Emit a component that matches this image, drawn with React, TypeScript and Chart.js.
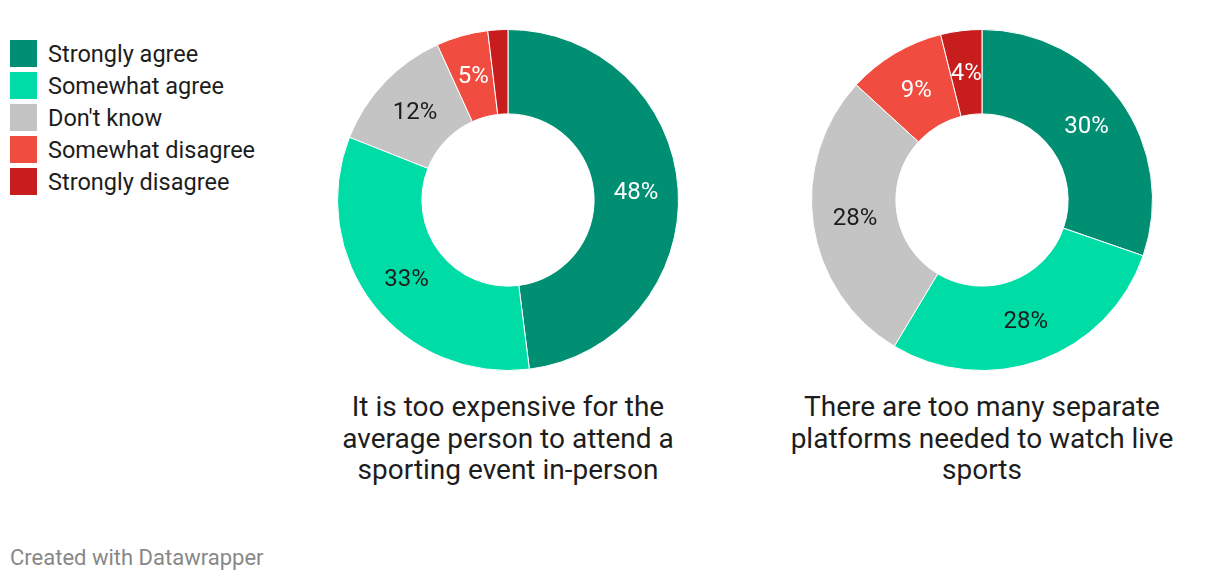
import React, { useEffect, useRef } from "react";
import { Chart, registerables } from "chart.js";

Chart.register(...registerables);

const categories = ["Strongly agree", "Somewhat agree", "Don't know", "Somewhat disagree", "Strongly disagree"];
const colors = ["#008f73", "#00dca6", "#c4c4c4", "#f04c40", "#c71e1d"];
const labelColors = ["#ffffff", "#1d1d1d", "#1d1d1d", "#ffffff", "#ffffff"];
const expensiveValues = [48.0, 33.0, 12.2, 4.9, 1.9];
const platformsValues = [30.3, 28.3, 28.2, 9.3, 3.9];
const expensiveTitle = ["It is too expensive for the", "average person to attend a", "sporting event in-person"];
const platformsTitle = ["There are too many separate", "platforms needed to watch live", "sports"];

const FONT = "Roboto, 'Noto Sans', sans-serif";

const pctLabels = {
  id: "pctLabels",
  afterDatasetsDraw(chart: any) {
    const ctx = chart.ctx;
    const meta = chart.getDatasetMeta(0);
    const data = chart.data.datasets[0].data as number[];
    ctx.save();
    ctx.font = `24px ${FONT}`;
    ctx.textAlign = "center";
    ctx.textBaseline = "middle";
    meta.data.forEach((arc: any, i: number) => {
      const v = data[i];
      if (v < 3) return;
      const p = arc.tooltipPosition();
      ctx.fillStyle = labelColors[i];
      ctx.fillText(`${Math.round(v)}%`, p.x, p.y + 1);
    });
    ctx.restore();
  },
};

function Donut({ values, left, title }: { values: number[]; left: number; title: string[] }) {
  const ref = useRef<HTMLCanvasElement>(null);
  useEffect(() => {
    if (!ref.current) return;
    const chart = new Chart(ref.current, {
      type: "doughnut",
      data: {
        labels: categories,
        datasets: [
          {
            data: values,
            backgroundColor: colors,
            borderColor: "#ffffff",
            borderWidth: 1,
          },
        ],
      },
      options: {
        animation: false,
        responsive: false,
        maintainAspectRatio: false,
        cutout: "50.5%",
        layout: { padding: 0 },
        plugins: {
          legend: { display: false },
          tooltip: { enabled: false },
        },
      },
      plugins: [pctLabels],
    });
    return () => chart.destroy();
  }, []);
  return (
    <>
      <canvas
        ref={ref}
        width={342}
        height={342}
        style={{ position: "absolute", left: left - 171, top: 29, width: 342, height: 342 }}
      />
      <div
        style={{
          position: "absolute",
          left: left - 220,
          top: 391,
          width: 440,
          textAlign: "center",
          fontFamily: FONT,
          fontSize: 28,
          lineHeight: "31.5px",
          color: "#1d1d1d",
        }}
      >
        {title.map((t, i) => (
          <div key={i}>{t}</div>
        ))}
      </div>
    </>
  );
}

export default function App() {
  return (
    <div
      style={{
        position: "fixed",
        left: 0,
        top: 0,
        width: 1220,
        height: 582,
        background: "#ffffff",
        fontFamily: FONT,
      }}
    >
      <div style={{ position: "absolute", left: 10, top: 40 }}>
        {categories.map((c, i) => (
          <div key={c} style={{ display: "flex", alignItems: "center", height: 32 }}>
            <div style={{ width: 27, height: 27, background: colors[i], marginRight: 11, marginTop: -5 }} />
            <span style={{ fontSize: 23.5, color: "#1d1d1d", marginTop: -5 }}>{c}</span>
          </div>
        ))}
      </div>
      <Donut values={expensiveValues} left={508} title={expensiveTitle} />
      <Donut values={platformsValues} left={982} title={platformsTitle} />
      <div
        style={{
          position: "absolute",
          left: 10,
          top: 545,
          fontSize: 22,
          color: "#888888",
        }}
      >
        Created with Datawrapper
      </div>
    </div>
  );
}
